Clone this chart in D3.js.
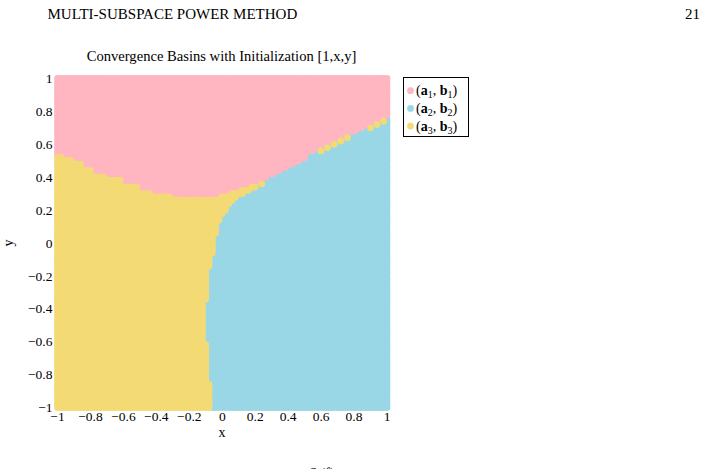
<!DOCTYPE html>
<html>
<head>
<meta charset="utf-8">
<script src="https://cdn.jsdelivr.net/npm/d3@7"></script>
<style>
  body { margin: 0; background: #fff; }
  text { font-family: "Liberation Serif", serif; fill: #000; }
</style>
</head>
<body>
<script>
var width = 709,
  height = 469;

var xTicks = [-1, -0.8, -0.6, -0.4, -0.2, 0, 0.2, 0.4, 0.6, 0.8, 1];
var yTicks = [-1, -0.8, -0.6, -0.4, -0.2, 0, 0.2, 0.4, 0.6, 0.8, 1];

// basins: pink, blue, yellow
var basinSub = ["1", "2", "3"];
var basinColors = ["#ffb6c1", "#9ad7e6", "#f4da74"];

// grid of initial points (step 0.02)
var gridStep = 0.02;

// highest non-pink grid point in each column, as runs: [x where run starts, y]
var pinkRuns = [
  [-1.00, 0.52], [-0.96, 0.50], [-0.90, 0.48], [-0.84, 0.44], [-0.78, 0.40],
  [-0.70, 0.38], [-0.60, 0.34], [-0.50, 0.30], [-0.42, 0.28], [-0.30, 0.26],
  [0.00, 0.28], [0.06, 0.30], [0.12, 0.32], [0.18, 0.34], [0.24, 0.36],
  [0.30, 0.38], [0.34, 0.40], [0.38, 0.42], [0.42, 0.44], [0.46, 0.46],
  [0.50, 0.48], [0.54, 0.52], [0.58, 0.54], [0.60, 0.56], [0.64, 0.58],
  [0.68, 0.60], [0.72, 0.62], [0.76, 0.64], [0.84, 0.66], [0.88, 0.68],
  [0.90, 0.70], [0.94, 0.72], [0.98, 0.74]
];

// rightmost yellow grid point in each row, as runs going down: [y where run starts, x]
var yellowRuns = [
  [1.00, 0.00], [0.36, 0.24], [0.34, 0.20], [0.32, 0.16], [0.30, 0.12],
  [0.28, 0.08], [0.26, 0.06], [0.24, 0.04], [0.22, 0.02], [0.18, 0.00],
  [0.16, -0.02], [0.12, -0.04], [0.04, -0.06], [-0.08, -0.08], [-0.16, -0.10],
  [-0.36, -0.12], [-0.62, -0.10], [-0.86, -0.08]
];

// lone yellow points on the pink / blue border
var borderDots = [
  [0.60, 0.56], [0.64, 0.58], [0.68, 0.60], [0.72, 0.62], [0.76, 0.64],
  [0.90, 0.70], [0.94, 0.72], [0.98, 0.74]
];

var scaleX = d3.scaleLinear()
                    .domain([-1, 1])
                    .range([57.5, 387]);

var scaleY = d3.scaleLinear()
                    .domain([-1, 1])
                    .range([407.5, 78.5]);

function minus(v) {
  return d3.format("")(v).replace("-", "\u2212");
}

function basinOf(x, y) {
  var eps = 1e-6;
  var top = pinkRuns.filter(function(r) { return r[0] <= x + eps; }).pop()[1];
  if (y > top + eps) return 0;
  if (borderDots.some(function(d) { return Math.abs(d[0] - x) < eps && Math.abs(d[1] - y) < eps; })) return 2;
  var right = yellowRuns.filter(function(r) { return r[0] >= y - eps; }).pop()[1];
  return x <= right + eps ? 2 : 1;
}

function drawBasins(svg) {
  var n = Math.round(2 / gridStep);
  var points = [];
  for (var i = 0; i <= n; i++) {
    for (var j = 0; j <= n; j++) {
      var x = +(-1 + i * gridStep).toFixed(2),
        y = +(-1 + j * gridStep).toFixed(2);
      points.push({x: x, y: y, c: basinOf(x, y)});
    }
  }
  points.sort(function(a, b) { return a.c - b.c; });

  svg.append("g")
      .selectAll("circle")
      .data(points)
      .enter()
      .append("circle")
      .attr("cx", function(d) { return scaleX(d.x); })
      .attr("cy", function(d) { return scaleY(d.y); })
      .attr("r", 3.4)
      .style("fill", function(d) { return basinColors[d.c]; });
}

function drawAxes(svg) {
  svg.append("g")
      .selectAll("text")
      .data(xTicks)
      .enter()
      .append("text")
      .attr("x", function(d) { return scaleX(d); })
      .attr("y", 420.5)
      .attr("text-anchor", "middle")
      .style("font-size", "13.5px")
      .text(minus);

  svg.append("g")
      .selectAll("text")
      .data(yTicks)
      .enter()
      .append("text")
      .attr("x", 52.5)
      .attr("y", function(d) { return scaleY(d) + 4.6; })
      .attr("text-anchor", "end")
      .style("font-size", "13.5px")
      .text(minus);

  svg.append("text")
      .attr("x", 222)
      .attr("y", 437)
      .attr("text-anchor", "middle")
      .style("font-size", "14px")
      .text("x");

  svg.append("text")
      .attr("transform", "translate(13,243) rotate(-90)")
      .attr("text-anchor", "middle")
      .style("font-size", "14px")
      .text("y");

  svg.append("text")
      .attr("x", 221.5)
      .attr("y", 61)
      .attr("text-anchor", "middle")
      .style("font-size", "14.6px")
      .text("Convergence Basins with Initialization [1,x,y]");
}

function drawLegend(svg) {
  var g = svg.append("g");
  g.append("rect")
      .attr("x", 403.5)
      .attr("y", 77.5)
      .attr("width", 65)
      .attr("height", 59)
      .style("fill", "#fff")
      .style("stroke", "#000")
      .style("stroke-width", 1);

  basinSub.forEach(function(s, i) {
    var cy = 90.7 + i * 17.7;
    g.append("circle")
        .attr("cx", 410.5)
        .attr("cy", cy)
        .attr("r", 3.4)
        .style("fill", basinColors[i]);
    var t = g.append("text")
        .attr("x", 416)
        .attr("y", cy + 4.5)
        .style("font-size", "14px");
    t.append("tspan").text("(");
    t.append("tspan").style("font-weight", "bold").text("a");
    t.append("tspan").attr("dy", 3).style("font-size", "10px").text(s);
    t.append("tspan").attr("dy", -3).text(", ");
    t.append("tspan").style("font-weight", "bold").text("b");
    t.append("tspan").attr("dy", 3).style("font-size", "10px").text(s);
    t.append("tspan").attr("dy", -3).text(")");
  });
}

function drawPage(svg) {
  svg.append("text")
      .attr("x", 47.5)
      .attr("y", 18.5)
      .style("font-size", "15px")
      .text("MULTI-SUBSPACE POWER METHOD");
  svg.append("text")
      .attr("x", 700)
      .attr("y", 18.5)
      .attr("text-anchor", "end")
      .style("font-size", "15px")
      .text("21");
  svg.append("text")
      .attr("x", 322)
      .attr("y", 478)
      .attr("text-anchor", "middle")
      .style("font-size", "14px")
      .text("S (f)");
}

var svg = d3.select("body").append("svg")
                    .attr("width", width)
                    .attr("height", height);

drawBasins(svg);
drawAxes(svg);
drawLegend(svg);
drawPage(svg);
</script>
</body>
</html>
